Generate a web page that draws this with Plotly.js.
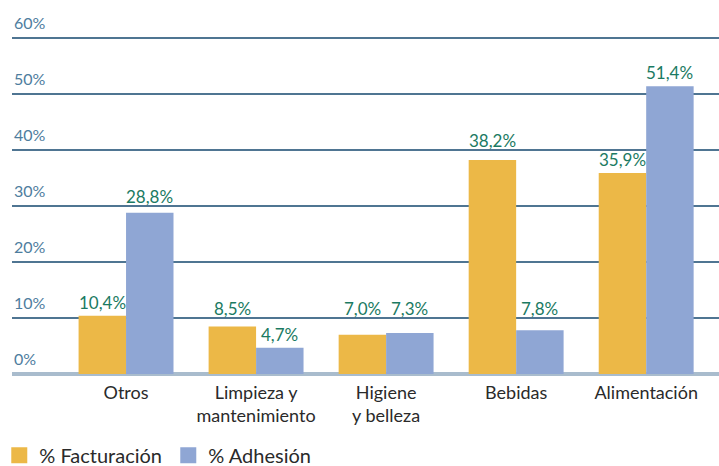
<!DOCTYPE html>
<html>
<head>
<meta charset="utf-8">
<script src="https://cdn.plot.ly/plotly-3.0.1.min.js"></script>
<style>
  html, body { margin: 0; padding: 0; background: #fff; }
  #myDiv { width: 719px; height: 466px; }
</style>
</head>
<body>
<div id="myDiv"></div>
<script>
var categories = ['Otros', 'Limpieza y<br>mantenimiento', 'Higiene<br>y belleza', 'Bebidas', 'Alimentación'];
var facturacion = [10.4, 8.5, 7.0, 38.2, 35.9];
var adhesion = [28.8, 4.7, 7.3, 7.8, 51.4];
var tickVals = [0, 10, 20, 30, 40, 50, 60];
var tickText = ['0%', '10%', '20%', '30%', '40%', '50%', '60%'];

var fontFam = 'Lato, "Open Sans", sans-serif';
var colFact = '#ecb847';
var colAdh = '#8fa6d4';

function pct(v){
	return v.toFixed(1).replace('.', ',') + '%'
}

var trace1 = {
	x: categories,
	y: facturacion,
	type: 'bar',
	name: '% Facturación',
	marker: {color: colFact},
	showlegend: false,
	hoverinfo: 'none'
};

var trace2 = {
	x: categories,
	y: adhesion,
	type: 'bar',
	name: '% Adhesión',
	marker: {color: colAdh},
	showlegend: false,
	hoverinfo: 'none'
};

// legend-only entries so the swatches can be bigger squares
var leg1 = {x: [null], y: [null], type: 'scatter', mode: 'markers', name: '% Facturación',
	marker: {symbol: 'square', size: 16, color: colFact}, hoverinfo: 'none'};
var leg2 = {x: [null], y: [null], type: 'scatter', mode: 'markers', name: '% Adhesión',
	marker: {symbol: 'square', size: 16, color: colAdh}, hoverinfo: 'none'};

// y tick labels sit above their gridlines, so draw them as annotations
var notes = []
for (var i = 0; i < tickVals.length; i++){
	notes.push({
		xref: 'paper', yref: 'y',
		x: 0, y: tickVals[i],
		xanchor: 'left', yanchor: 'bottom',
		yshift: 4,
		text: tickText[i],
		showarrow: false,
		font: {family: fontFam, size: 16, color: '#4e7d9e'}
	})
}

// value label: just over the bar, or lifted over a gridline it would cross
function valueNote(cat, v, dx){
	var yy = v, ys = 1
	for (var k = 0; k < tickVals.length; k++){
		if (tickVals[k] > v && tickVals[k] < v + 3.1){
			yy = tickVals[k]
			ys = -3
		}
	}
	return {
		x: cat, y: yy, xshift: dx, yshift: ys,
		xanchor: 'center', yanchor: 'bottom', showarrow: false,
		text: pct(v),
		font: {family: fontFam, size: 17, color: '#1b7a62'}
	}
}

var halfBar = 23.5
for (var c = 0; c < categories.length; c++){
	notes.push(valueNote(categories[c], facturacion[c], -halfBar))
	notes.push(valueNote(categories[c], adhesion[c], halfBar))
}

var layout = {
	width: 719,
	height: 466,
	margin: {l: 12, r: 0, t: 30, b: 92, autoexpand: false},
	paper_bgcolor: '#fff',
	plot_bgcolor: '#fff',
	barmode: 'group',
	bargap: 0.27,
	bargroupgap: 0,
	showlegend: true,
	legend: {
		orientation: 'h',
		x: -0.018, xanchor: 'left',
		y: -0.236, yanchor: 'middle',
		font: {family: fontFam, size: 20, color: '#2a2a2a'},
		itemwidth: 30,
		entrywidth: 124,
		traceorder: 'normal'
	},
	xaxis: {
		range: [-0.877, 4.56],
		showgrid: false,
		zeroline: false,
		showline: false,
		ticks: '',
		ticklabelstandoff: 6,
		automargin: false,
		tickfont: {family: fontFam, size: 18, color: '#2a2a2a'},
		fixedrange: true
	},
	yaxis: {
		range: [0, 61.43],
		tickvals: tickVals,
		showticklabels: false,
		showgrid: true,
		gridcolor: '#4f7592',
		gridwidth: 1.5,
		zeroline: true,
		zerolinecolor: '#a9bccd',
		zerolinewidth: 3.5,
		showline: false,
		automargin: false,
		fixedrange: true
	},
	annotations: notes
};

Plotly.newPlot('myDiv', [trace1, trace2, leg1, leg2], layout, {displayModeBar: false, staticPlot: true});
</script>
</body>
</html>
